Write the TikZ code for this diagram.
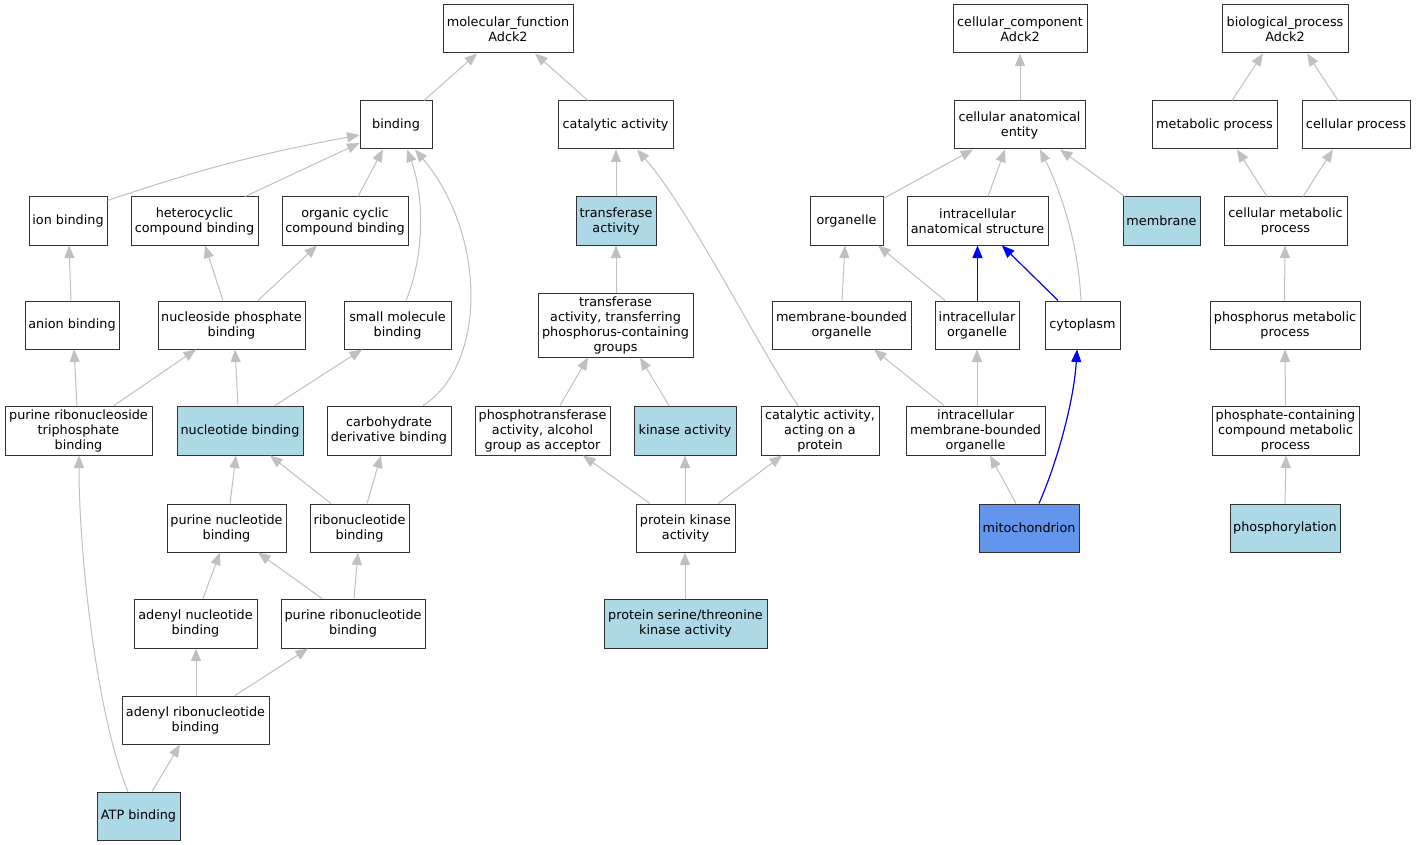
\documentclass[tikz,border=0pt]{standalone}
\usepackage{fontspec}
\setmainfont{DejaVu Sans}
\usetikzlibrary{arrows.meta}
\definecolor{edgegray}{RGB}{192,192,192}
\definecolor{lblue}{RGB}{173,216,230}
\definecolor{cblue}{RGB}{100,149,237}
\definecolor{bordergray}{RGB}{50,50,50}
\begin{document}
\begin{tikzpicture}[x=1pt,y=-1pt,
  box/.style={draw=bordergray, line width=1pt, fill=white, minimum height=48pt, inner sep=0pt, align=center, font=\fontsize{12.8}{15}\selectfont},
  hl/.style={box, fill=lblue},
  hm/.style={box, fill=cblue},
  edge/.style={draw=edgegray, line width=1pt, -{Triangle[length=12.5pt,width=10pt]}},
  bedge/.style={draw=blue, line width=1.2pt, -{Triangle[length=12.5pt,width=10pt]}}]
\useasboundingbox[fill=white] (0,0) rectangle (1416,845);
% molecular function
\node[box, minimum width=130pt] (mf) at (508,29) {molecular\_function\\Adck2};
\node[box, minimum width=72pt] (binding) at (396,125) {binding};
\node[box, minimum width=115pt] (cat) at (615.5,125) {catalytic activity};
\node[box, minimum width=78pt] (ion) at (68,221) {ion binding};
\node[box, minimum width=127pt] (hetero) at (194.5,221) {heterocyclic\\compound binding};
\node[box, minimum width=126pt] (organic) at (345,221) {organic cyclic\\compound binding};
\node[box, minimum width=94pt] (anion) at (72,325) {anion binding};
\node[box, minimum width=147pt] (nsp) at (231.5,325) {nucleoside phosphate\\binding};
\node[box, minimum width=107pt] (small) at (397.5,325) {small molecule\\binding};
\node[box, minimum width=147pt, minimum height=49pt] (prtp) at (78.5,430.5) {purine ribonucleoside\\triphosphate\\binding};
\node[hl, minimum width=126pt, minimum height=49pt] (nucb) at (240,430.5) {nucleotide binding};
\node[box, minimum width=124pt, minimum height=49pt] (carb) at (389,430.5) {carbohydrate\\derivative binding};
\node[box, minimum width=119pt] (purnuc) at (226.5,528) {purine nucleotide\\binding};
\node[box, minimum width=99pt] (ribonuc) at (359.5,528) {ribonucleotide\\binding};
\node[box, minimum width=123pt, minimum height=49pt] (adenuc) at (195.5,623.5) {adenyl nucleotide\\binding};
\node[box, minimum width=144pt, minimum height=49pt] (purribo) at (353,623.5) {purine ribonucleotide\\binding};
\node[box, minimum width=147pt] (adenribo) at (195.5,720) {adenyl ribonucleotide\\binding};
\node[hl, minimum width=83pt] (atp) at (138.5,816) {ATP binding};
% catalytic branch
\node[hl, minimum width=80pt] (transf) at (616,221) {transferase\\activity};
\node[box, minimum width=155pt, minimum height=64pt] (transP) at (615.5,325) {transferase\\activity, transferring\\phosphorus-containing\\groups};
\node[box, minimum width=135pt, minimum height=49pt] (phosphot) at (542.5,430.5) {phosphotransferase\\activity, alcohol\\group as acceptor};
\node[hl, minimum width=102pt, minimum height=49pt] (kinase) at (685,430.5) {kinase activity};
\node[box, minimum width=118pt, minimum height=49pt] (catprot) at (820,430.5) {catalytic activity,\\acting on a\\protein};
\node[box, minimum width=99pt] (pk) at (685.5,528) {protein kinase\\activity};
\node[hl, minimum width=163pt, minimum height=49pt] (pstk) at (685.5,623.5) {protein serine/threonine\\kinase activity};
% cellular component
\node[box, minimum width=134pt] (cc) at (1020,29) {cellular\_component\\Adck2};
\node[box, minimum width=131pt] (cae) at (1019.5,125) {cellular anatomical\\entity};
\node[box, minimum width=73pt] (organelle) at (846.5,221) {organelle};
\node[box, minimum width=141pt] (ias) at (977.5,221) {intracellular\\anatomical structure};
\node[hl, minimum width=77pt] (membrane) at (1161.5,221) {membrane};
\node[box, minimum width=139pt] (mbo) at (841.5,325) {membrane-bounded\\organelle};
\node[box, minimum width=84pt] (io) at (977,325) {intracellular\\organelle};
\node[box, minimum width=75pt] (cyto) at (1082.5,325) {cytoplasm};
\node[box, minimum width=139pt, minimum height=49pt] (imbo) at (975.5,430.5) {intracellular\\membrane-bounded\\organelle};
\node[hm, minimum width=100pt] (mito) at (1029,528) {mitochondrion};
% biological process
\node[box, minimum width=126pt] (bp) at (1285,29) {biological\_process\\Adck2};
\node[box, minimum width=125pt] (metab) at (1214.5,125) {metabolic process};
\node[box, minimum width=108pt] (cellp) at (1356,125) {cellular process};
\node[box, minimum width=123pt] (cmp) at (1285.5,221) {cellular metabolic\\process};
\node[box, minimum width=150pt] (pmp) at (1285,325) {phosphorus metabolic\\process};
\node[box, minimum width=147pt, minimum height=49pt] (pcmp) at (1285.5,430.5) {phosphate-containing\\compound metabolic\\process};
\node[hl, minimum width=110pt] (phosphoryl) at (1285,528) {phosphorylation};
% edges: molecular function
\draw[edge] ([xshift=28pt]binding.north) -- ([xshift=-31pt]mf.south);
\draw[edge] ([xshift=-27.5pt]cat.north) -- ([xshift=27pt]mf.south);
\draw[edge] ([yshift=-4pt]ion.north east) to[bend left=4] ([yshift=-10pt]binding.west);
\draw[edge] ([xshift=50.5pt]hetero.north) -- ([yshift=-18pt]binding.west);
\draw[edge] ([xshift=13pt]organic.north) -- ([xshift=-13pt]binding.south);
\draw[edge] ([xshift=8.5pt]small.north) .. controls (425,255) and (424,195) .. ([xshift=11pt]binding.south);
\draw[edge] ([xshift=34pt]carb.north) .. controls (487,365) and (487,235) .. ([xshift=19pt]binding.south);
\draw[edge] ([xshift=-1pt]anion.north) -- ([xshift=1pt]ion.south);
\draw[edge] ([xshift=-8.5pt]nsp.north) -- ([xshift=10.5pt]hetero.south);
\draw[edge] ([xshift=26.5pt]nsp.north) -- ([xshift=-28pt]organic.south);
\draw[edge] ([xshift=-1.5pt]prtp.north) -- ([xshift=2pt]anion.south);
\draw[edge] ([xshift=35.5pt]prtp.north) -- ([xshift=-35.5pt]nsp.south);
\draw[edge] ([xshift=-2pt]nucb.north) -- ([xshift=3.5pt]nsp.south);
\draw[edge] ([xshift=35pt]nucb.north) -- ([xshift=-35.5pt]small.south);
\draw[edge] ([xshift=3.5pt]purnuc.north) -- ([xshift=-4pt]nucb.south);
\draw[edge] ([xshift=-28.5pt]ribonuc.north) -- ([xshift=30pt]nucb.south);
\draw[edge] ([xshift=7.5pt]ribonuc.north) -- ([xshift=-8pt]carb.south);
\draw[edge] ([xshift=7.5pt]adenuc.north) -- ([xshift=-6.5pt]purnuc.south);
\draw[edge] ([xshift=-31pt]purribo.north) -- ([xshift=31.5pt]purnuc.south);
\draw[edge] ([xshift=1pt]purribo.north) -- ([xshift=-1.5pt]ribonuc.south);
\draw[edge] ([xshift=0.5pt]adenribo.north) -- ([xshift=0.5pt]adenuc.south);
\draw[edge] ([xshift=39.5pt]adenribo.north) -- ([xshift=-45pt]purribo.south);
\draw[edge] ([xshift=13.5pt]atp.north) -- ([xshift=-15.5pt]adenribo.south);
\draw[edge] ([xshift=-10.5pt]atp.north) .. controls (98,720) and (79,560) .. ([xshift=0.5pt]prtp.south);
% edges: catalytic
\draw[edge] (transf.north) -- ([xshift=0.5pt]cat.south);
\draw[edge] ([xshift=0.5pt]transP.north) -- (transf.south);
\draw[edge] ([xshift=-22pt]catprot.north) .. controls (760,350) and (690,210) .. ([xshift=21.5pt]cat.south);
\draw[edge] ([xshift=17.5pt]phosphot.north) -- ([xshift=-27.5pt]transP.south);
\draw[edge] ([xshift=-16pt]kinase.north) -- ([xshift=24.5pt]transP.south);
\draw[edge] ([xshift=-35.5pt]pk.north) -- ([xshift=40.5pt]phosphot.south);
\draw[edge] ([xshift=-0.5pt]pk.north) -- (kinase.south);
\draw[edge] ([xshift=32.5pt]pk.north) -- ([xshift=-38pt]catprot.south);
\draw[edge] ([xshift=-0.5pt]pstk.north) -- ([xshift=-0.5pt]pk.south);
% edges: cellular component
\draw[edge] ([xshift=0.5pt]cae.north) -- (cc.south);
\draw[edge] ([yshift=-2pt]organelle.north east) -- ([xshift=-46.5pt]cae.south);
\draw[edge] ([xshift=10.5pt]ias.north) -- ([xshift=-14.5pt]cae.south);
\draw[edge] ([xshift=-36.5pt]membrane.north) -- ([xshift=40.5pt]cae.south);
\draw[edge] ([xshift=-1.5pt]cyto.north) .. controls (1078,240) and (1060,190) .. ([xshift=20.5pt]cae.south);
\draw[edge] ([xshift=0.5pt]mbo.north) -- ([xshift=-1.5pt]organelle.south);
\draw[edge] ([xshift=-32pt]io.north) -- ([xshift=31.5pt]organelle.south);
\draw[bedge] ([xshift=0.5pt]io.north) -- (ias.south);
\draw[bedge] ([xshift=-24.5pt]cyto.north) -- ([xshift=24.5pt]ias.south);
\draw[edge] ([xshift=-31.5pt]imbo.north) -- ([xshift=32.5pt]mbo.south);
\draw[edge] ([xshift=1.5pt]imbo.north) -- (io.south);
\draw[edge] ([xshift=-13pt]mito.north) -- ([xshift=14.5pt]imbo.south);
\draw[bedge] ([xshift=10pt]mito.north) .. controls (1058,460) and (1074,400) .. ([xshift=-5.5pt]cyto.south);
% edges: biological process
\draw[edge] ([xshift=17.5pt]metab.north) -- ([xshift=-22pt]bp.south);
\draw[edge] ([xshift=-18pt]cellp.north) -- ([xshift=22pt]bp.south);
\draw[edge] ([xshift=-18.5pt]cmp.north) -- ([xshift=22.5pt]metab.south);
\draw[edge] ([xshift=17.5pt]cmp.north) -- ([xshift=-23pt]cellp.south);
\draw[edge] ([xshift=-0.5pt]pmp.north) -- ([xshift=-0.5pt]cmp.south);
\draw[edge] (pcmp.north) -- (pmp.south);
\draw[edge] (phosphoryl.north) -- ([xshift=0.5pt]pcmp.south);
\end{tikzpicture}
\end{document}
